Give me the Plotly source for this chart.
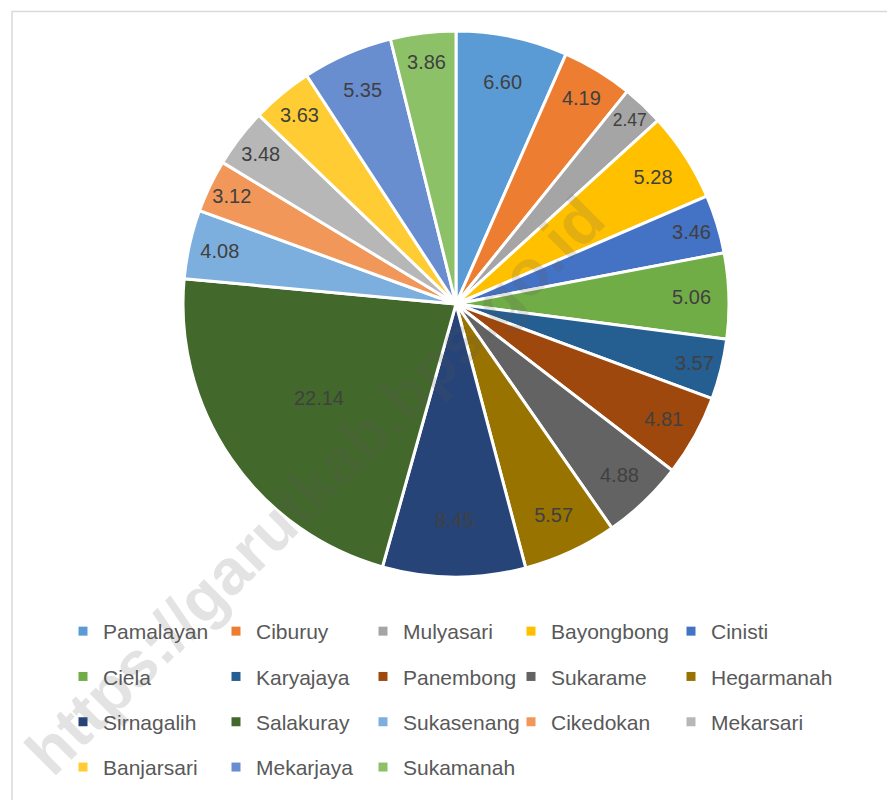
import plotly.graph_objects as go

labels = ["Pamalayan", "Ciburuy", "Mulyasari", "Bayongbong", "Cinisti",
          "Ciela", "Karyajaya", "Panembong", "Sukarame", "Hegarmanah",
          "Sirnagalih", "Salakuray", "Sukasenang", "Cikedokan", "Mekarsari",
          "Banjarsari", "Mekarjaya", "Sukamanah"]
values = [6.60, 4.19, 2.47, 5.28, 3.46,
          5.06, 3.57, 4.81, 4.88, 5.57,
          8.45, 22.14, 4.08, 3.12, 3.48,
          3.63, 5.35, 3.86]
colors = ["#5B9BD5", "#ED7D31", "#A5A5A5", "#FFC000", "#4472C4",
          "#70AD47", "#255E91", "#9E480E", "#636363", "#997300",
          "#264478", "#43682B", "#7CAFDD", "#F1975A", "#B7B7B7",
          "#FFCD33", "#698ED0", "#8CC168"]
watermark = "https://garutkab.bps.go.id"

FONT = "Liberation Sans, Arial, sans-serif"
W, H = 895, 800

fig = go.Figure()
fig.add_trace(go.Pie(
    labels=labels, values=values, sort=False, direction="clockwise", rotation=0,
    marker=dict(colors=colors, line=dict(color="white", width=3)),
    texttemplate="%{value:.2f}", textposition="inside",
    insidetextorientation="horizontal",
    textfont=dict(family=FONT, size=20, color="#404040"),
    domain=dict(x=[175 / W, 721 / W], y=[1 - 569 / H, 1 - 23 / H]),
    showlegend=False, hoverinfo="label+value",
))

# legend entries: 5 columns (vertical legends), 4 rows
legend_names = ["legend", "legend2", "legend3", "legend4", "legend5"]
for i, (lab, col) in enumerate(zip(labels, colors)):
    fig.add_trace(go.Scatter(
        x=[None], y=[None], mode="markers", name=lab,
        marker=dict(symbol="square", size=9, color=col),
        legend=legend_names[i % 5], legendgroup=lab, showlegend=True,
    ))

col_x = [55, 208, 355, 503, 663]
leg_common = dict(orientation="v", xanchor="left", yanchor="top",
                  y=1 - 603 / H, tracegroupgap=15,
                  font=dict(family=FONT, size=21, color="#595959"),
                  bgcolor="rgba(0,0,0,0)", traceorder="grouped")
layout_legends = {}
for name, cx in zip(legend_names, col_x):
    layout_legends[name] = dict(leg_common, x=cx / W)

fig.update_layout(
    width=W, height=H,
    margin=dict(l=0, r=0, t=0, b=0),
    paper_bgcolor="white", plot_bgcolor="white",
    xaxis=dict(visible=False), yaxis=dict(visible=False),
    **layout_legends,
    shapes=[dict(type="rect", xref="paper", yref="paper",
                 x0=4 / W, x1=1.05, y0=-0.05, y1=1 - 3.5 / H,
                 line=dict(color="#D9D9D9", width=1.5))],
    annotations=[dict(text="<b>" + watermark + "</b>", xref="paper", yref="paper",
                      x=307 / W, y=1 - 477 / H, showarrow=False, textangle=-45,
                      font=dict(family=FONT, size=64, color="rgba(90,90,90,0.17)"))],
)

fig.write_html("out.html")
